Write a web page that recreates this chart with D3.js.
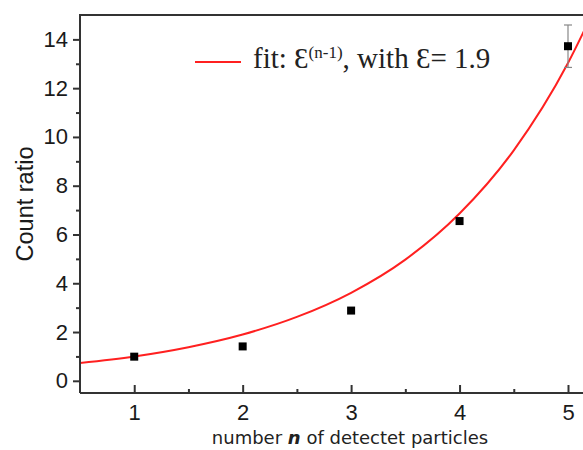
<!DOCTYPE html>
<html>
<head>
<meta charset="utf-8">
<script src="https://cdn.jsdelivr.net/npm/d3@7"></script>
<style>
	body { margin: 0; background: #fff; }
	svg { display: block; }
</style>
</head>
<body>
<div id="chart"></div>
<script>

// measured points
var nValues = [1, 2, 3, 4, 5];
var ratioValues = [0.99, 1.41, 2.88, 6.55, 13.72];
var ratioErrors = [0, 0, 0, 0, 0.87];

// fit curve (eps = 1.9)
var fitX = [0.5, 1, 1.5, 2, 2.5, 3, 3.5, 4, 4.5, 5, 5.25];
var fitY = [0.73, 1.0, 1.38, 1.9, 2.62, 3.61, 4.97, 6.86, 9.45, 13.03, 15.3];

var xTicks = [1, 2, 3, 4, 5];
var xMinor = [1.5, 2.5, 3.5, 4.5];
var yTicks = [0, 2, 4, 6, 8, 10, 12, 14];
var yMinor = [1, 3, 5, 7, 9, 11, 13];

// size and margins
var width = 583, height = 450;
var margin = {top: 15, left: 80, bottom: 57};

var svg = d3.select("#chart")
	.append("svg")
	.attr("width", width)
	.attr("height", height);

var x = d3.scaleLinear()
	.domain([0.5, 5])
	.range([80, 568]);

var y = d3.scaleLinear()
	.domain([-0.5, 15])
	.range([height - margin.bottom, margin.top]);

var axisColor = "#333";

// clip so the curve stays inside the frame
svg.append("clipPath")
	.attr("id", "plotclip")
	.append("rect")
	.attr("x", margin.left)
	.attr("y", margin.top)
	.attr("width", width - margin.left)
	.attr("height", height - margin.bottom - margin.top);

// fit line
var line = d3.line()
	.x(function(d, i){ return x(fitX[i]); })
	.y(function(d){ return y(d); })
	.curve(d3.curveMonotoneX);

svg.append("path")
	.datum(fitY)
	.attr("clip-path", "url(#plotclip)")
	.attr("d", line)
	.attr("fill", "none")
	.attr("stroke", "#ff2020")
	.attr("stroke-width", 2);

// error bars
var errG = svg.append("g")
	.attr("stroke", "#888")
	.attr("stroke-width", 1.2);

nValues.forEach(function(n, i){
	if (ratioErrors[i] === 0) return;
	var cx = x(n), top = y(ratioValues[i] + ratioErrors[i]), bot = y(ratioValues[i] - ratioErrors[i]);
	errG.append("line").attr("x1", cx).attr("x2", cx).attr("y1", top).attr("y2", bot);
	errG.append("line").attr("x1", cx - 4).attr("x2", cx + 4).attr("y1", top).attr("y2", top);
	errG.append("line").attr("x1", cx - 4).attr("x2", cx + 4).attr("y1", bot).attr("y2", bot);
});

// data squares
svg.append("g")
	.selectAll("rect")
	.data(ratioValues)
	.enter()
	.append("rect")
	.attr("x", function(d, i){ return x(nValues[i]) - 4; })
	.attr("y", function(d){ return y(d) - 4; })
	.attr("width", 8)
	.attr("height", 8)
	.attr("fill", "#000");

// y axis
var yAxis = svg.append("g")
	.attr("transform", "translate(" + margin.left + ",0)")
	.call(d3.axisLeft(y).tickValues(yTicks).tickSize(7).tickPadding(5).tickSizeOuter(0));

yAxis.selectAll(".tick text")
	.attr("font-family", "Liberation Sans, Arial, sans-serif")
	.attr("font-size", 22)
	.attr("fill", "#1a1a1a");

svg.append("g")
	.attr("transform", "translate(" + margin.left + ",0)")
	.call(d3.axisLeft(y).tickValues(yMinor).tickSize(4).tickFormat("").tickSizeOuter(0))
	.select(".domain").remove();

// x axis, ticks pointing inward
var xAxis = svg.append("g")
	.attr("transform", "translate(0," + (height - margin.bottom) + ")")
	.call(d3.axisBottom(x).tickValues(xTicks).tickFormat(d3.format("d")).tickSize(-8).tickPadding(11).tickSizeOuter(0));

xAxis.selectAll(".tick text")
	.attr("font-family", "Liberation Sans, Arial, sans-serif")
	.attr("font-size", 22)
	.attr("fill", "#1a1a1a");

svg.append("g")
	.attr("transform", "translate(0," + (height - margin.bottom) + ")")
	.call(d3.axisBottom(x).tickValues(xMinor).tickSize(-4).tickFormat("").tickSizeOuter(0))
	.select(".domain").remove();

svg.selectAll(".domain, .tick line")
	.attr("stroke", axisColor)
	.attr("stroke-width", 2);

// stretch x domain line to the edge and draw the top frame
xAxis.select(".domain").attr("d", "M" + margin.left + ",0H" + width);

svg.append("line")
	.attr("x1", margin.left - 1)
	.attr("x2", width)
	.attr("y1", margin.top)
	.attr("y2", margin.top)
	.attr("stroke", axisColor)
	.attr("stroke-width", 2);

yAxis.select(".domain").attr("d", "M0," + margin.top + "V" + (height - margin.bottom));

// axis titles
svg.append("text")
	.attr("transform", "translate(33,204) rotate(-90)")
	.attr("text-anchor", "middle")
	.attr("font-family", "Liberation Sans, Arial, sans-serif")
	.attr("font-size", 23.5)
	.attr("fill", "#1a1a1a")
	.text("Count ratio");

var xlabel = svg.append("text")
	.attr("x", 350)
	.attr("y", 444)
	.attr("text-anchor", "middle")
	.attr("font-family", "DejaVu Sans, sans-serif")
	.attr("font-size", 18)
	.attr("fill", "#222");
xlabel.append("tspan").text("number ");
xlabel.append("tspan").attr("font-weight", "bold").attr("font-style", "italic").text("n");
xlabel.append("tspan").text(" of detectet particles");

// legend
svg.append("line")
	.attr("x1", 195)
	.attr("x2", 241)
	.attr("y1", 62)
	.attr("y2", 62)
	.attr("stroke", "#ff2020")
	.attr("stroke-width", 2);

var legend = svg.append("text")
	.attr("x", 253)
	.attr("y", 68)
	.attr("font-family", "Liberation Serif, Times New Roman, serif")
	.attr("font-size", 29)
	.attr("fill", "#222");
legend.append("tspan").text("fit: \u0190");
legend.append("tspan").attr("font-size", 17).attr("dy", -10).text("(n-1)");
legend.append("tspan").attr("dy", 10).text(", with \u0190= 1.9");

</script>
</body>
</html>
